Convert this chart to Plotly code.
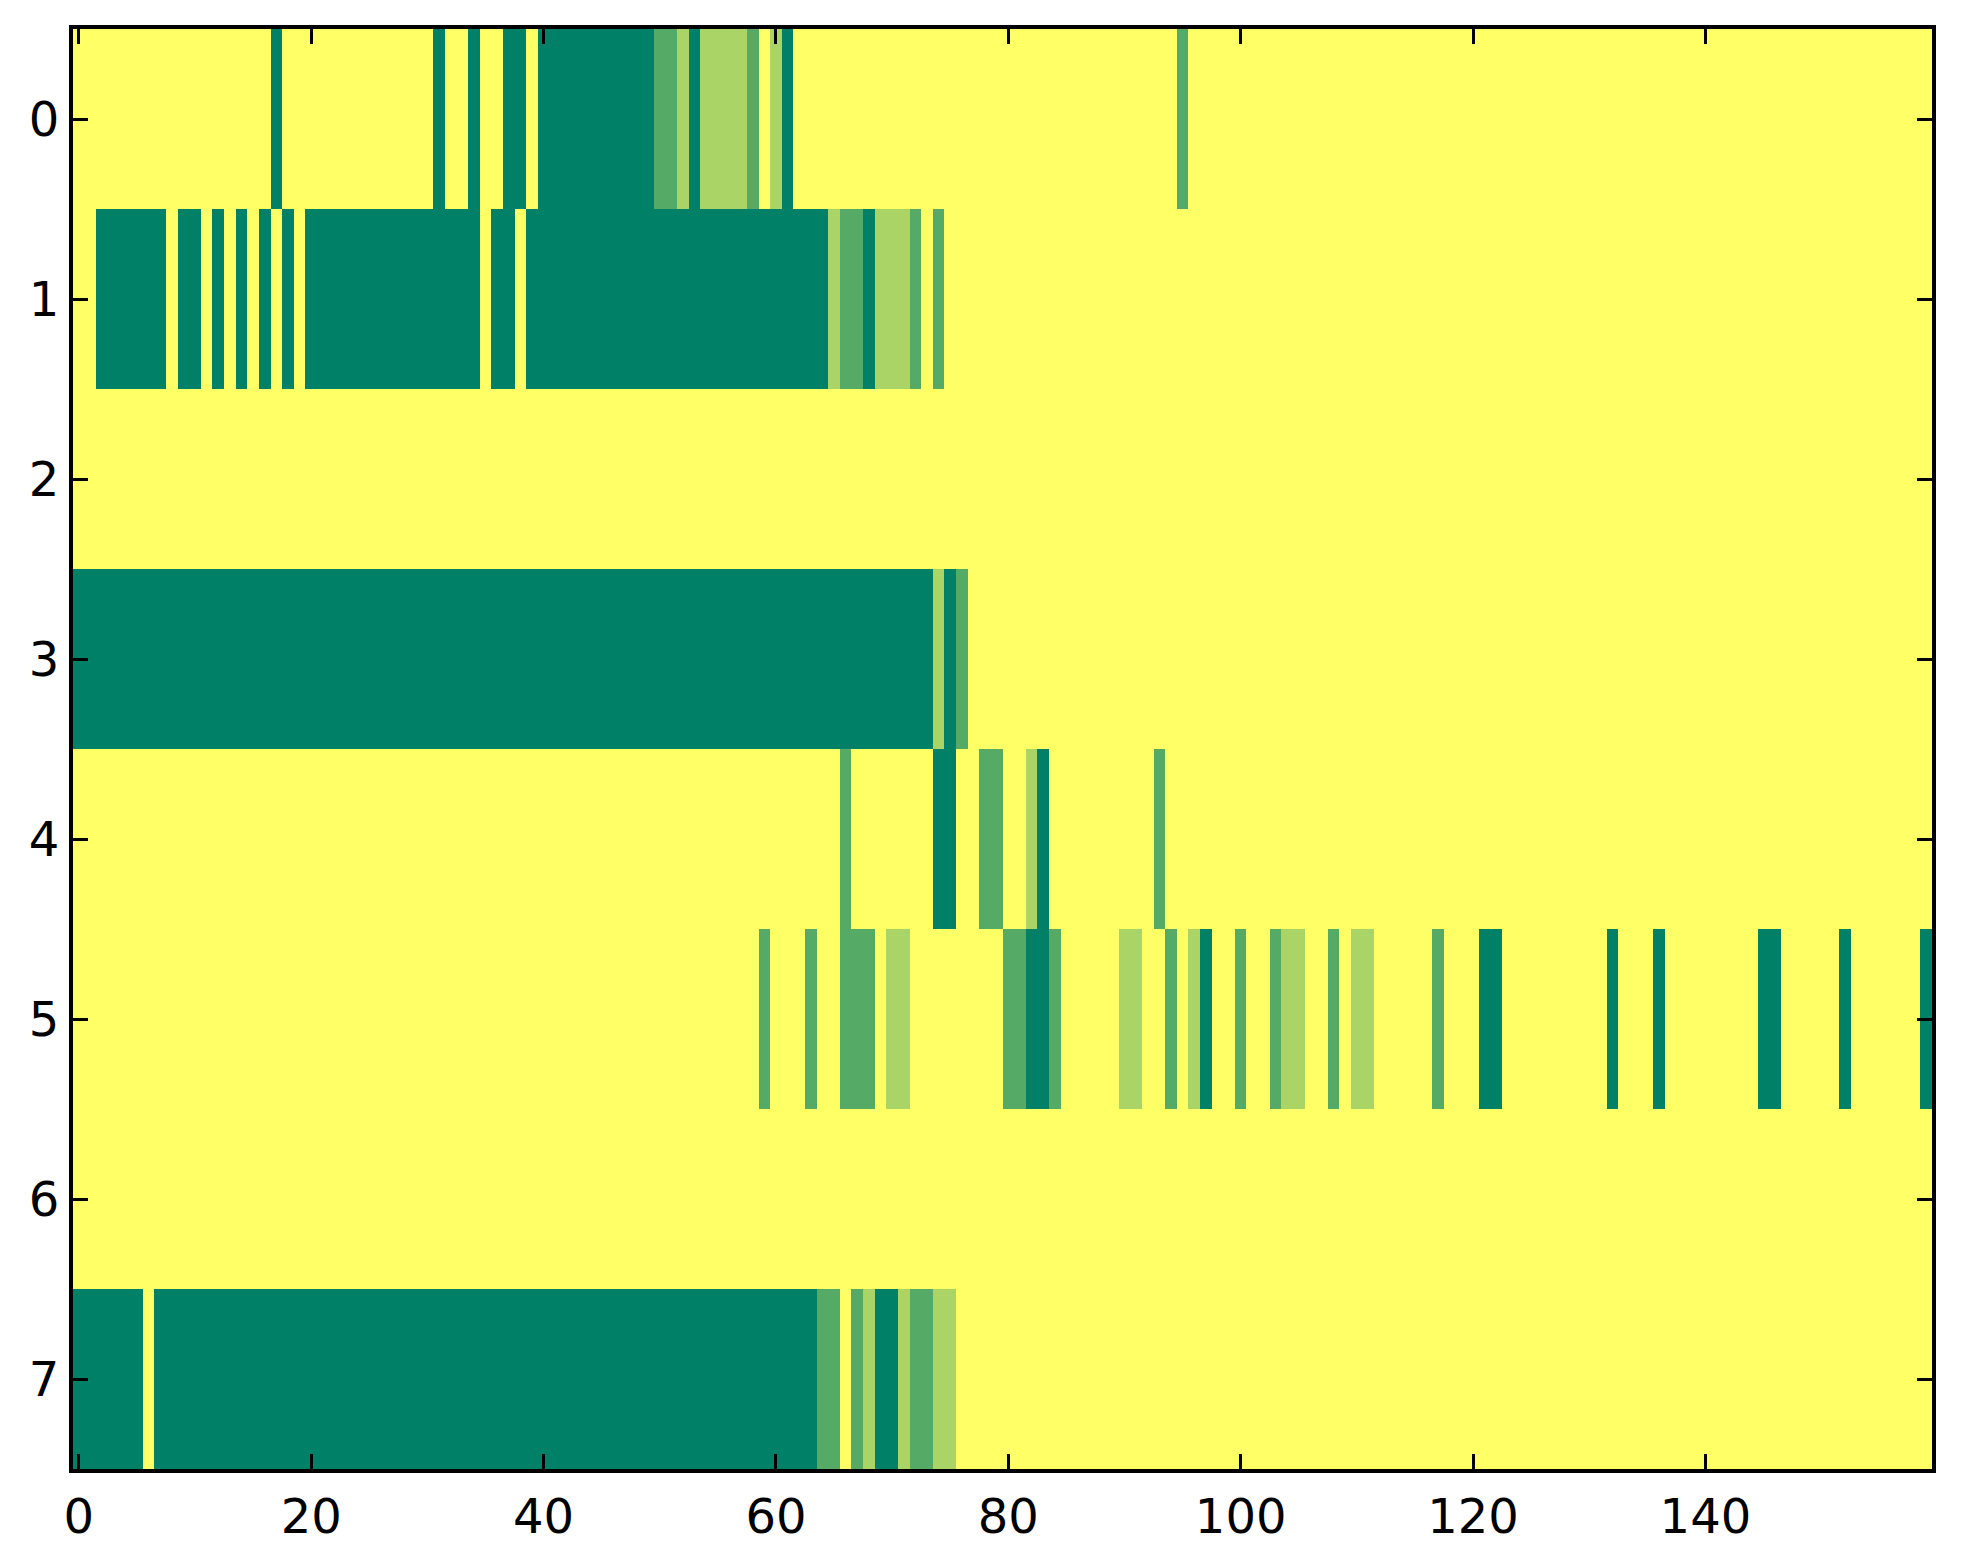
import plotly.graph_objects as go

n_cols = 160
row_labels = [0, 1, 2, 3, 4, 5, 6, 7]
x_ticks = [0, 20, 40, 60, 80, 100, 120, 140]

# level per cell: 0 = dark green, 1 = mid green, 2 = light green, 3 = yellow (background)
# runs of non-yellow cells: (first column, last column, level)
row_0 = [(17, 17, 0), (31, 31, 0), (34, 34, 0), (37, 38, 0), (40, 49, 0), (50, 51, 1),
         (52, 52, 2), (53, 53, 0), (54, 57, 2), (58, 58, 1), (60, 60, 2), (61, 61, 0),
         (95, 95, 1)]
row_1 = [(2, 7, 0), (9, 10, 0), (12, 12, 0), (14, 14, 0), (16, 16, 0), (18, 18, 0),
         (20, 34, 0), (36, 37, 0), (39, 64, 0), (65, 65, 2), (66, 67, 1), (68, 68, 0),
         (69, 71, 2), (72, 72, 1), (74, 74, 1)]
row_2 = []
row_3 = [(0, 73, 0), (74, 74, 2), (75, 75, 0), (76, 76, 1)]
row_4 = [(66, 66, 1), (74, 75, 0), (78, 79, 1), (82, 82, 2), (83, 83, 0), (93, 93, 1)]
row_5 = [(59, 59, 1), (63, 63, 1), (66, 68, 1), (70, 71, 2), (80, 81, 1), (82, 83, 0),
         (84, 84, 1), (90, 91, 2), (94, 94, 1), (96, 96, 2), (97, 97, 0), (100, 100, 1),
         (103, 103, 1), (104, 105, 2), (108, 108, 1), (110, 111, 2), (117, 117, 1),
         (121, 122, 0), (132, 132, 0), (136, 136, 0), (145, 146, 0), (152, 152, 0),
         (159, 159, 0)]
row_6 = []
row_7 = [(0, 5, 0), (7, 63, 0), (64, 65, 1), (67, 67, 1), (68, 68, 2), (69, 70, 0),
         (71, 71, 2), (72, 73, 1), (74, 75, 2)]

rows = [row_0, row_1, row_2, row_3, row_4, row_5, row_6, row_7]

z = []
for runs in rows:
    line = [3] * n_cols
    for a, b, lvl in runs:
        for c in range(a, b + 1):
            line[c] = lvl
    z.append(line)

colors = ['#008066', '#55aa66', '#aad466', '#ffff66']
scale = []
for i, c in enumerate(colors):
    scale.append([i / 4, c])
    scale.append([(i + 1) / 4, c])

fig = go.Figure(go.Heatmap(
    z=z,
    x=list(range(n_cols)),
    y=row_labels,
    zmin=-0.5, zmax=3.5,
    colorscale=scale,
    showscale=False,
    hoverinfo='skip',
))

axis_style = dict(
    showline=True, linecolor='black', linewidth=4, mirror='ticks',
    ticks='inside', ticklen=15, tickwidth=2.5, tickcolor='black',
    showgrid=False, zeroline=False,
    tickfont=dict(family='DejaVu Sans', size=48, color='black'),
)

fig.update_xaxes(range=[-0.5, n_cols - 0.5], tickvals=x_ticks, ticklabelstandoff=2, **axis_style)
fig.update_yaxes(range=[7.5, -0.5], tickvals=row_labels, ticklabelstandoff=0, **axis_style)

# page body has an 8px margin, so the figure is shifted by that much
fig.update_layout(
    width=1947, height=1548,
    margin=dict(l=65, r=23, t=21, b=87),
    paper_bgcolor='white', plot_bgcolor='white',
)

fig.write_html("out.html")
